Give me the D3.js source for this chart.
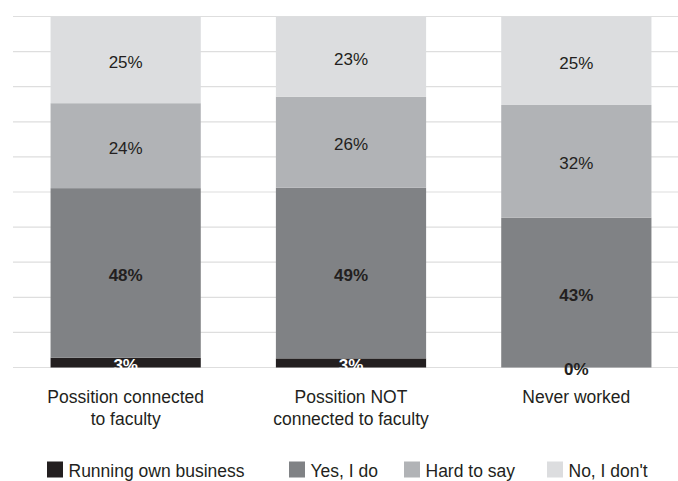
<!DOCTYPE html>
<html>
<head>
<meta charset="utf-8">
<script src="https://cdn.jsdelivr.net/npm/d3@7"></script>
<style>
  html, body { margin: 0; padding: 0; background: #fff; }
  svg { display: block; font-family: "Liberation Sans", Arial, Helvetica, sans-serif; }
</style>
</head>
<body>
<svg id="chart" width="678" height="481"></svg>
<script>
// ---- data ----
const categories = [
  ["Possition connected", "to faculty"],
  ["Possition NOT", "connected to faculty"],
  ["Never worked"]
];
const seriesNames = ["Running own business", "Yes, I do", "Hard to say", "No, I don't"];
const runningOwnBusiness = [2.8, 2.6, 0];
const yesIDo = [48.3, 48.6, 42.7];
const hardToSay = [24.2, 25.9, 32.1];
const noIDont = [24.7, 22.9, 25.2];
const gridTicks = [0, 10, 20, 30, 40, 50, 60, 70, 80, 90, 100];

// ---- styles / layout ----
const colors = ["#231f20", "#808285", "#b1b3b6", "#dcdddf"];
const labelWeights = ["bold", "bold", "normal", "normal"];
const legendX = [47, 289, 404, 547];
const textColor = "#231f20";

const svg = d3.select("#chart");
const W = 678, H = 481;

const x = d3.scaleBand()
  .domain(d3.range(categories.length))
  .range([13, 689])
  .paddingInner(1 / 3)
  .paddingOuter(1 / 6);

const y = d3.scaleLinear().domain([0, 100]).range([367.5, 16.5]);

// gridlines
svg.append("g").selectAll("line")
  .data(gridTicks)
  .join("line")
  .attr("x1", 13).attr("x2", W)
  .attr("y1", d => y(d)).attr("y2", d => y(d))
  .attr("stroke", "#dedede")
  .attr("stroke-width", 1.2);

// stack
const seriesValues = [runningOwnBusiness, yesIDo, hardToSay, noIDont];
const rows = categories.map((c, i) => {
  const r = { idx: i };
  seriesNames.forEach((s, k) => { r[s] = seriesValues[k][i]; });
  return r;
});
const stack = d3.stack().keys(seriesNames)(rows);

const layers = svg.append("g").selectAll("g")
  .data(stack)
  .join("g")
  .attr("fill", (d, k) => colors[k]);

layers.selectAll("rect")
  .data(d => d)
  .join("rect")
  .attr("x", d => x(d.data.idx))
  .attr("width", x.bandwidth())
  .attr("y", d => y(d[1]))
  .attr("height", d => y(d[0]) - y(d[1]));

// value labels
const labelG = svg.append("g");
stack.forEach((layer, k) => {
  labelG.selectAll(null)
    .data(layer)
    .join("text")
    .attr("x", d => x(d.data.idx) + x.bandwidth() / 2)
    .attr("y", d => (y(d[0]) + y(d[1])) / 2)
    .attr("dy", "0.47em")
    .attr("text-anchor", "middle")
    .attr("font-size", 17)
    .attr("font-weight", labelWeights[k])
    .attr("fill", d => (k === 0 && (d[1] - d[0]) > 0) ? "#ffffff" : textColor)
    .text(d => Math.round(d[1] - d[0]) + "%");
});

// x-axis labels
const axisG = svg.append("g");
categories.forEach((lines, i) => {
  const t = axisG.append("text")
    .attr("x", x(i) + x.bandwidth() / 2)
    .attr("y", 403)
    .attr("text-anchor", "middle")
    .attr("font-size", 17.5)
    .attr("fill", textColor);
  lines.forEach((ln, j) => {
    t.append("tspan")
      .attr("x", x(i) + x.bandwidth() / 2)
      .attr("y", 403 + j * 21.5)
      .text(ln);
  });
});

// legend
const legend = svg.append("g");
seriesNames.forEach((s, k) => {
  legend.append("rect")
    .attr("x", legendX[k]).attr("y", 461.5)
    .attr("width", 16).attr("height", 16)
    .attr("fill", colors[k]);
  legend.append("text")
    .attr("x", legendX[k] + 21.5)
    .attr("y", 477)
    .attr("font-size", 17.5)
    .attr("fill", textColor)
    .text(s);
});
</script>
</body>
</html>
